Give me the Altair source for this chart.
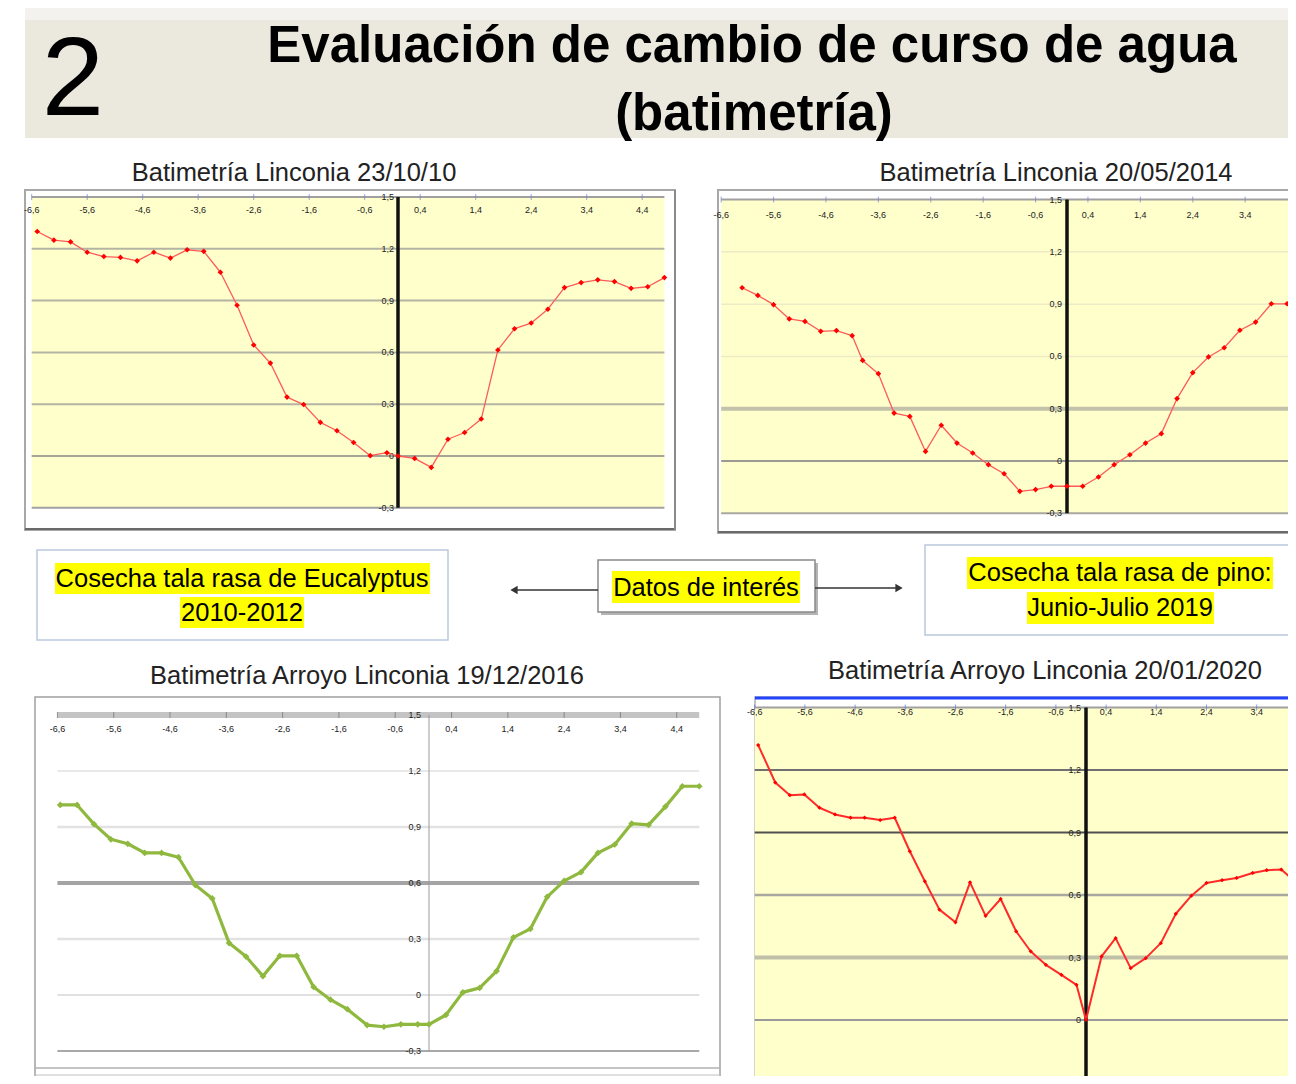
import altair as alt
import pandas as pd

# ---------------- texts ----------------
TITLE_NUM = "2"
TITLE_1 = "Evaluación de cambio de curso de agua"
TITLE_2 = "(batimetría)"
SUB1 = "Batimetría Linconia 23/10/10"
SUB2 = "Batimetría Linconia 20/05/2014"
SUB3 = "Batimetría Arroyo Linconia 19/12/2016"
SUB4 = "Batimetría Arroyo Linconia 20/01/2020"
BOX_LEFT = ["Cosecha tala rasa de Eucalyptus", "2010-2012"]
BOX_MID = "Datos de interés"
BOX_RIGHT = ["Cosecha tala rasa de pino:", "Junio-Julio 2019"]

# ---------------- axes ----------------
X_TICKS = [-6.6, -5.6, -4.6, -3.6, -2.6, -1.6, -0.6, 0.4, 1.4, 2.4, 3.4, 4.4]
X_LABELS = ["-6,6", "-5,6", "-4,6", "-3,6", "-2,6", "-1,6", "-0,6", "0,4", "1,4", "2,4", "3,4", "4,4"]
Y_TICKS = [-0.3, 0.0, 0.3, 0.6, 0.9, 1.2, 1.5]
Y_LABELS = ["-0,3", "0", "0,3", "0,6", "0,9", "1,2", "1,5"]
X_DOMAIN = [-6.6, 4.8]
Y_DOMAIN = [-0.3, 1.5]

# ---------------- series ----------------
X1 = [-6.5, -6.2, -5.9, -5.6, -5.3, -5.0, -4.7, -4.4, -4.1, -3.8, -3.5, -3.2, -2.9, -2.6, -2.3, -2.0,
      -1.7, -1.4, -1.1, -0.8, -0.5, -0.2, 0.0, 0.3, 0.6, 0.9, 1.2, 1.5, 1.8, 2.1, 2.4, 2.7, 3.0, 3.3,
      3.6, 3.9, 4.2, 4.5, 4.8]
Y1 = [1.30, 1.25, 1.24, 1.18, 1.155, 1.15, 1.13, 1.18, 1.146, 1.194, 1.185, 1.064, 0.873, 0.643,
      0.538, 0.341, 0.298, 0.195, 0.146, 0.078, 0.002, 0.019, 0.0, -0.014, -0.066, 0.097, 0.136,
      0.214, 0.614, 0.737, 0.77, 0.85, 0.975, 1.004, 1.02, 1.01, 0.971, 0.98, 1.033]

X2 = [-6.2, -5.9, -5.6, -5.3, -5.0, -4.7, -4.4, -4.1, -3.9, -3.6, -3.3, -3.0, -2.7, -2.4, -2.1, -1.8,
      -1.5, -1.2, -0.9, -0.6, -0.3, 0.0, 0.3, 0.6, 0.9, 1.2, 1.5, 1.8, 2.1, 2.4, 2.7, 3.0, 3.3, 3.6,
      3.9, 4.2, 4.5]
Y2 = [0.994, 0.950, 0.897, 0.815, 0.801, 0.744, 0.748, 0.719, 0.577, 0.501, 0.275, 0.256, 0.055,
      0.205, 0.103, 0.046, -0.021, -0.073, -0.174, -0.164, -0.145, -0.145, -0.145, -0.092, -0.021,
      0.036, 0.103, 0.157, 0.358, 0.507, 0.597, 0.650, 0.750, 0.797, 0.902, 0.902, 0.89]

X3 = [-6.55, -6.25, -5.95, -5.65, -5.35, -5.05, -4.75, -4.45, -4.15, -3.85, -3.55, -3.25, -2.95,
      -2.65, -2.35, -2.05, -1.75, -1.45, -1.1, -0.8, -0.5, -0.2, 0.0, 0.3, 0.6, 0.9, 1.2, 1.5, 1.8,
      2.1, 2.4, 2.7, 3.0, 3.3, 3.6, 3.9, 4.2, 4.5, 4.8]
Y3 = [1.018, 1.018, 0.915, 0.834, 0.81, 0.761, 0.761, 0.738, 0.589, 0.517, 0.278, 0.206, 0.101,
      0.21, 0.21, 0.043, -0.025, -0.076, -0.161, -0.170, -0.157, -0.157, -0.157, -0.107, 0.014,
      0.038, 0.128, 0.309, 0.354, 0.526, 0.611, 0.658, 0.761, 0.806, 0.918, 0.911, 1.009, 1.118,
      1.118]

X4 = [-6.53, -6.19, -5.90, -5.61, -5.31, -5.0, -4.69, -4.41, -4.10, -3.81, -3.51, -3.21, -2.92,
      -2.60, -2.31, -2.0, -1.70, -1.39, -1.10, -0.80, -0.49, -0.19, 0.0, 0.31, 0.59, 0.89, 1.19,
      1.49, 1.79, 2.10, 2.40, 2.71, 3.0, 3.32, 3.60, 3.89, 4.20, 4.5]
Y4 = [1.32, 1.14, 1.079, 1.083, 1.019, 0.987, 0.971, 0.971, 0.960, 0.971, 0.81, 0.666, 0.53, 0.469,
      0.661, 0.50, 0.581, 0.425, 0.329, 0.265, 0.217, 0.169, 0.0, 0.305, 0.393, 0.249, 0.297, 0.369,
      0.51, 0.597, 0.658, 0.671, 0.682, 0.706, 0.719, 0.722, 0.658, 0.62]

# ---------------- layout / style (page pixels) ----------------
W, H = 1280, 1068
OFF = 8
FONT = "Liberation Sans, Arial, Helvetica, sans-serif"
ONE = pd.DataFrame({"k": [0]})


def P(v):
    return v - OFF


def rect(x1, y1, x2, y2, fill=None, stroke=None, sw=1.0):
    kw = {}
    if fill is None:
        kw["fillOpacity"] = 0
        kw["fill"] = "#ffffff"
    else:
        kw["fill"] = fill
    if stroke is not None:
        kw["stroke"] = stroke
        kw["strokeWidth"] = sw
    return alt.Chart(ONE).mark_rect(clip=True, **kw).encode(
        x=alt.value(P(x1)), x2=alt.value(P(x2)), y=alt.value(P(y1)), y2=alt.value(P(y2)))


def hline(x1, x2, y, color, sw=1.0):
    return alt.Chart(ONE).mark_rule(color=color, strokeWidth=sw, clip=True).encode(
        x=alt.value(P(x1)), x2=alt.value(P(x2)), y=alt.value(P(y)))


def vline(x, y1, y2, color, sw=1.0):
    return alt.Chart(ONE).mark_rule(color=color, strokeWidth=sw, clip=True).encode(
        x=alt.value(P(x)), y=alt.value(P(y1)), y2=alt.value(P(y2)))


def text(s, x, y, size, bold=False, align="center", baseline="alphabetic", color="#000000"):
    return alt.Chart(ONE).mark_text(
        text=s, fontSize=size, font=FONT, fontWeight="bold" if bold else "normal",
        align=align, baseline=baseline, color=color).encode(x=alt.value(P(x)), y=alt.value(P(y)))


def head(x, y, shape):
    return alt.Chart(ONE).mark_point(shape=shape, filled=True, size=70, color="#333333", opacity=1).encode(
        x=alt.value(P(x)), y=alt.value(P(y)))


PANELS = {
    1: dict(x0=398, kx=55.5, y0=456, ky=172.7, bg="#ffffcc",
            grid_c=["#a0a0a0", "#a4a498", "#b4b4a4", "#b4b4a4", "#b4b4a4", "#b4b4a4", "#a0a0a0"],
            grid_w=[2, 2, 2, 2, 2, 2, 2],
            axis_c="#111111", axis_w=3.5, tick_c="#7080d0", xl_dy=13, yl_dx=-4,
            line_c="#ff5a5a", line_w=1.3, pt_c="#ff0000", pt_s=32),
    2: dict(x0=1067, kx=52.4, y0=461, ky=174.3, bg="#ffffcc",
            grid_c=["#a8a8a0", "#9a9a92", "#c2c2aa", "#ecebc6", "#ecebc6", "#ecebc6", "#a0a0a0"],
            grid_w=[2, 2, 4, 1.5, 1.5, 1.5, 2],
            axis_c="#111111", axis_w=3.5, tick_c="#7080d0", xl_dy=15, yl_dx=-5,
            line_c="#ff5a5a", line_w=1.3, pt_c="#ff0000", pt_s=32),
    3: dict(x0=429, kx=56.3, y0=995, ky=186.7, bg="#ffffff",
            grid_c=["#a8a8a8", "#d6d6d6", "#e2e2e2", "#a4a4a4", "#e2e2e2", "#e2e2e2", "#c4c4c4"],
            grid_w=[2, 1.5, 2.5, 4, 2.5, 1.5, 6],
            axis_c="#9a9a9a", axis_w=1, tick_c="#707070", xl_dy=14, yl_dx=-8,
            line_c="#8fb93e", line_w=3.2, pt_c="#8fb93e", pt_s=45),
    4: dict(x0=1086, kx=50.2, y0=1020, ky=208.3, bg="#ffffcc",
            grid_c=["#a0a0a0", "#9a9a9a", "#c0c0a8", "#a8a8a0", "#505050", "#707070", "#a0a0a0"],
            grid_w=[2, 2, 4, 2.5, 2, 2, 2],
            axis_c="#111111", axis_w=3.5, tick_c="#6070d0", xl_dy=4, yl_dx=-5,
            line_c="#ff2a2a", line_w=2, pt_c="#ff0000", pt_s=18),
}


def panel(xs, ys, c):
    xsc = alt.Scale(domain=X_DOMAIN, range=[P(c["x0"] + X_DOMAIN[0] * c["kx"]), P(c["x0"] + X_DOMAIN[1] * c["kx"])],
                    nice=False, zero=False)
    ysc = alt.Scale(domain=Y_DOMAIN, range=[P(c["y0"] - Y_DOMAIN[0] * c["ky"]), P(c["y0"] - Y_DOMAIN[1] * c["ky"])],
                    nice=False, zero=False)

    def xd(v):
        return alt.XDatum(v, scale=xsc, axis=None, type="quantitative")

    def yd(v):
        return alt.YDatum(v, scale=ysc, axis=None, type="quantitative")

    out = []
    out.append(alt.Chart(ONE).mark_rect(fill=c["bg"], clip=True).encode(
        x=xd(X_DOMAIN[0]), x2=alt.X2Datum(X_DOMAIN[1]), y=yd(Y_DOMAIN[0]), y2=alt.Y2Datum(Y_DOMAIN[1])))
    grid = pd.DataFrame({"v": Y_TICKS, "c": c["grid_c"], "w": c["grid_w"]})
    out.append(alt.Chart(grid).mark_rule(clip=True).encode(
        x=xd(X_DOMAIN[0]), x2=alt.X2Datum(X_DOMAIN[1]),
        y=alt.Y("v:Q", scale=ysc, axis=None),
        color=alt.Color("c:N", scale=None),
        strokeWidth=alt.StrokeWidth("w:Q", scale=None)))
    xt = pd.DataFrame({"v": X_TICKS, "t": X_LABELS})
    out.append(alt.Chart(xt).mark_tick(orient="vertical", size=6, thickness=1, color=c["tick_c"], clip=True).encode(
        x=alt.X("v:Q", scale=xsc, axis=None), y=yd(Y_DOMAIN[1])))
    out.append(alt.Chart(xt).mark_text(fontSize=9, font=FONT, color="#222222", dy=c["xl_dy"], clip=True).encode(
        x=alt.X("v:Q", scale=xsc, axis=None), y=yd(Y_DOMAIN[1]), text="t:N"))
    yt = pd.DataFrame({"v": Y_TICKS, "t": Y_LABELS})
    out.append(alt.Chart(yt).mark_text(fontSize=9, font=FONT, color="#222222", align="right",
                                       baseline="middle", dx=c["yl_dx"], clip=True).encode(
        x=xd(0), y=alt.Y("v:Q", scale=ysc, axis=None), text="t:N"))
    out.append(alt.Chart(ONE).mark_rule(color=c["axis_c"], strokeWidth=c["axis_w"], clip=True).encode(
        x=xd(0), y=yd(Y_DOMAIN[0]), y2=alt.Y2Datum(Y_DOMAIN[1])))
    s = pd.DataFrame({"x": xs, "y": ys})
    out.append(alt.Chart(s).mark_line(color=c["line_c"], strokeWidth=c["line_w"], strokeJoin="round", clip=True).encode(
        x=alt.X("x:Q", scale=xsc, axis=None), y=alt.Y("y:Q", scale=ysc, axis=None)))
    out.append(alt.Chart(s).mark_point(shape="diamond", filled=True, size=c["pt_s"], color=c["pt_c"],
                                       opacity=1, clip=True).encode(
        x=alt.X("x:Q", scale=xsc, axis=None), y=alt.Y("y:Q", scale=ysc, axis=None)))
    return out


layers = []
# title band
layers.append(rect(25, 8, 1310, 22, fill="#f3f2ef"))
layers.append(rect(25, 20, 1310, 138, fill="#ebe8de"))
layers.append(text(TITLE_NUM, 73, 115, 112))
layers.append(text(TITLE_1, 752, 62, 51, bold=True))
layers.append(text(TITLE_2, 754, 130, 51, bold=True))

# frames
layers.append(rect(25, 190, 675, 530, fill="#ffffff", stroke="#a8a8a8", sw=2))
layers.append(hline(25, 675, 529, "#6a6a6a", 2))
layers.append(vline(675, 190, 530, "#8a8a8a", 2))
layers.append(rect(718, 190, 1310, 533, fill="#ffffff", stroke="#a8a8a8", sw=2))
layers.append(hline(718, 1310, 532, "#6a6a6a", 2))
layers.append(rect(35, 697, 720, 1095, fill="#ffffff", stroke="#a0a0a0", sw=1.5))
layers.append(hline(35, 720, 1068, "#b0b0b0", 1.5))
layers.append(hline(35, 720, 1075, "#c0c0c0", 1))
layers.append(rect(755, 697, 1310, 1095, fill="#ffffff", stroke="#b0b0b0", sw=1.5))

layers += panel(X1, Y1, PANELS[1])
layers += panel(X2, Y2, PANELS[2])
layers += panel(X3, Y3, PANELS[3])
layers += panel(X4, Y4, PANELS[4])

layers.append(hline(755, 1310, 698, "#2244ff", 3))

# subtitles
layers.append(text(SUB1, 294, 181, 25.5, color="#222222"))
layers.append(text(SUB2, 1056, 181, 25.5, color="#222222"))
layers.append(text(SUB3, 367, 684, 25.5, color="#222222"))
layers.append(text(SUB4, 1045, 679, 25.5, color="#222222"))

# middle boxes
layers.append(rect(37, 550, 448, 640, fill="#ffffff", stroke="#b9c9dd", sw=1.5))
layers.append(rect(55, 563, 430, 594, fill="#ffff00"))
layers.append(rect(180, 597, 304, 628, fill="#ffff00"))
layers.append(text(BOX_LEFT[0], 242, 579, 25.5, baseline="middle"))
layers.append(text(BOX_LEFT[1], 242, 613, 25.5, baseline="middle"))

layers.append(rect(601, 563, 818, 615, fill="#b4b4b4"))
layers.append(rect(598, 560, 815, 612, fill="#ffffff", stroke="#8a8a8a", sw=1.5))
layers.append(rect(612, 571, 800, 603, fill="#ffff00"))
layers.append(text(BOX_MID, 706, 588, 25.5, baseline="middle"))

layers.append(hline(514, 598, 590, "#333333", 1.5))
layers.append(head(514, 590, "triangle-left"))
layers.append(hline(815, 899, 588, "#333333", 1.5))
layers.append(head(899, 588, "triangle-right"))

layers.append(rect(925, 545, 1310, 635, fill="#ffffff", stroke="#b9c9dd", sw=1.5))
layers.append(rect(967, 557, 1273, 589, fill="#ffff00"))
layers.append(rect(1027, 592, 1214, 624, fill="#ffff00"))
layers.append(text(BOX_RIGHT[0], 1120, 573, 25.5, baseline="middle"))
layers.append(text(BOX_RIGHT[1], 1120, 608, 25.5, baseline="middle"))

chart = alt.layer(*layers).resolve_scale(x="independent", y="independent").properties(
    width=W, height=H, autosize=alt.AutoSizeParams(type="none"), padding=0, background="#ffffff"
).configure_view(stroke=None)

chart.save("out.html", embed_options={"renderer": "svg", "actions": False})
